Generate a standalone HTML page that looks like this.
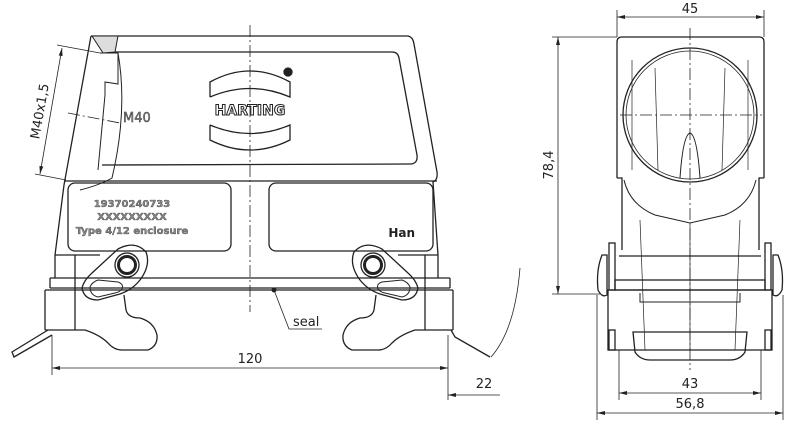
<!DOCTYPE html>
<html><head><style>body{margin:0;background:#fff}svg{display:block}text{font-family:"DejaVu Sans","Liberation Sans",sans-serif}</style></head><body>
<svg width="800" height="433" viewBox="0 0 800 433" xmlns="http://www.w3.org/2000/svg" fill="none" stroke="#222" stroke-width="1">
<defs><marker id="a" markerWidth="10" markerHeight="6" refX="10" refY="3" orient="auto-start-reverse"><path d="M0,0.5 L10,3 L0,5.5" fill="#222" stroke="none"/></marker></defs>
<!-- LEFT VIEW -->
<g stroke-width="1.3">
<path d="M91,36 L408,36 Q413,37 414,44 L437,172 Q438,180 433,182 L438,255 L438,278"/>
<path d="M91,36 L64,185 L55,255 L55,278"/>
<path d="M103,52 L392,52 Q398,52 399,58 L417,155 Q418,164 410,164 L102,165"/>
<line x1="64" y1="181" x2="437" y2="181"/>
<rect x="68" y="183" width="163" height="68" rx="7"/>
<rect x="269" y="183" width="164" height="68" rx="7"/>
<line x1="55" y1="255" x2="100" y2="255"/><line x1="398" y1="255" x2="438" y2="255"/>
<line x1="50" y1="278" x2="450" y2="278"/><line x1="50" y1="288" x2="450" y2="288"/>
<line x1="50" y1="278" x2="50" y2="288"/><line x1="450" y1="278" x2="450" y2="288"/>
<line x1="45" y1="290" x2="453" y2="290"/>
<line x1="45" y1="290" x2="45" y2="330"/><line x1="453" y1="290" x2="453" y2="330"/>
<path d="M45,330 L85,330 Q100,335 108,343 Q114,350 122,350 L148,350 Q158,346 157,335 Q154,322 140,318 Q128,318 126,310 L124,295"/>
<path d="M453,330 L415,330 Q400,335 392,343 Q386,350 378,350 L352,350 Q342,346 343,335 Q346,322 360,318 Q372,318 374,310 L376,295"/>
<line x1="75" y1="255" x2="75" y2="330"/><line x1="425" y1="255" x2="425" y2="330"/>
<path d="M48,330 L12,352 L14,357 L52,335"/>
<path d="M451,330 L455,337 L490,357"/>
<path d="M92,36 L118,36 L115,52 L103,53 Z" fill="#ddd" stroke-width="1"/>
<path d="M100,53 L118,53 L118,84 L105,82 L105,95 L98,170" stroke-width="1"/>
<path d="M118,53 Q128,110 112,178 Q100,185 80,190" stroke-width="1"/>
<!-- levers -->
<g id="lv"><circle cx="127" cy="265" r="12"/><circle cx="127" cy="265" r="8.5" stroke-width="3"/>
<path d="M118,249 Q135,240 146,252 Q151,265 140,280 Q132,290 120,294 L98,300 Q84,300 82,288 Q84,280 92,273 Z"/>
<path d="M90,287 Q92,282 98,280 L118,282 Q124,284 122,289 Q120,292 115,293 L98,297 Q90,295 90,287 Z" stroke-width="1"/>
</g>
<g transform="translate(500,0) scale(-1,1)"><use href="#lv"/></g>
</g>
<!-- logo -->
<g stroke-width="1.3">
<path d="M210,97 L210,82 Q250,60 290,82 L290,97 Q250,80 210,97"/>
<path d="M210,125 L210,140 Q250,160 290,140 L290,125 Q250,142 210,125"/>
<circle cx="288" cy="72" r="4" fill="#222"/>
</g>
<text x="250" y="115" font-size="14" font-weight="bold" text-anchor="middle" fill="#fff" stroke="#222" stroke-width="1">HARTING</text>
<text x="123" y="122" font-size="13" fill="#888" stroke="#222" stroke-width="0.4">M40</text>
<g fill="#888" stroke="#222" stroke-width="0.3" font-size="10" font-weight="bold" text-anchor="middle">
<text x="132" y="207">19370240733</text><text x="132" y="220">XXXXXXXXX</text><text x="132" y="234">Type 4/12 enclosure</text></g>
<text x="415" y="237" font-size="12" font-weight="bold" fill="#222" stroke="none" text-anchor="end">Han</text>
<!-- centerlines -->
<line x1="250" y1="25" x2="250" y2="312" stroke-width="0.8" stroke-dasharray="12,3,2,3"/>
<line x1="68" y1="113" x2="120" y2="123" stroke-width="0.8" stroke-dasharray="12,3,2,3"/>
<!-- dims left -->
<line x1="57" y1="45" x2="100" y2="53" stroke-width="0.8"/><line x1="35" y1="174" x2="66" y2="180" stroke-width="0.8"/>
<line x1="62" y1="48" x2="40" y2="174" stroke-width="0.8" marker-start="url(#a)" marker-end="url(#a)"/>
<text transform="translate(44,112) rotate(-80)" font-size="13" fill="#222" stroke="none" text-anchor="middle">M40x1,5</text>
<line x1="52" y1="335" x2="52" y2="375" stroke-width="0.8"/><line x1="448" y1="335" x2="448" y2="400" stroke-width="0.8"/>
<line x1="52" y1="368" x2="448" y2="368" stroke-width="0.8" marker-start="url(#a)" marker-end="url(#a)"/>
<text x="250" y="363" font-size="13" fill="#222" stroke="none" text-anchor="middle">120</text>
<line x1="448" y1="395" x2="500" y2="395" stroke-width="0.8" marker-start="url(#a)"/>
<text x="484" y="388" font-size="13" fill="#222" stroke="none" text-anchor="middle">22</text>
<path d="M520,268 Q515,330 491,357" stroke-width="0.8"/>
<circle cx="274" cy="290" r="2" fill="#222"/>
<path d="M274,290 L289,329 L322,329" stroke-width="0.8"/>
<text x="293" y="326" font-size="13" fill="#222" stroke="none">seal</text>
<!-- RIGHT VIEW -->
<g stroke-width="1.3">
<path d="M617,178 L617,42 Q617,37 622,37 L759,37 Q764,37 764,42 L764,178"/>
<circle cx="690" cy="115" r="67"/><circle cx="690" cy="115" r="64" stroke-width="0.8"/>
<path d="M617,178 L622,178 L622,250 M764,178 L759,178 L759,250"/>
<path d="M624,180 Q630,205 655,215 L690,223 L725,215 Q750,205 756,180" stroke-width="1"/>
<path d="M680,178 Q683,135 690,133 Q697,135 700,178" stroke-width="1"/>
<line x1="619" y1="256" x2="761" y2="256"/>
<rect x="615" y="280" width="150" height="10"/>
<path d="M608,290 L772,290 L772,350 L608,350 Z"/>
<path d="M640,293 L640,302 L740,302 L740,293" stroke-width="1"/>
<path d="M633,332 L635,352 Q640,360 650,360 L730,360 Q740,360 745,352 L747,332 Z"/>
<rect x="609" y="243" width="6" height="47"/><rect x="765" y="243" width="6" height="47"/>
<rect x="609" y="330" width="6" height="20"/><rect x="765" y="330" width="6" height="20"/>
<path d="M602,255 Q596,270 598,290 Q602,298 607,295 L607,255 Z"/>
<path d="M778,255 Q784,270 782,290 Q778,298 773,295 L773,255 Z"/>
</g>
<g stroke-width="0.7"><line x1="632" y1="60" x2="632" y2="170"/><line x1="748" y1="60" x2="748" y2="170"/>
<line x1="655" y1="68" x2="658" y2="170"/><line x1="725" y1="68" x2="722" y2="170"/>
<line x1="640" y1="220" x2="645" y2="350"/><line x1="740" y1="220" x2="735" y2="350"/>
<line x1="690" y1="225" x2="690" y2="350"/></g>
<line x1="690" y1="28" x2="690" y2="370" stroke-width="0.8" stroke-dasharray="12,3,2,3"/>
<line x1="620" y1="115" x2="762" y2="115" stroke-width="0.8" stroke-dasharray="12,3,2,3"/>
<!-- dims right -->
<line x1="617" y1="10" x2="617" y2="37" stroke-width="0.8"/><line x1="764" y1="10" x2="764" y2="37" stroke-width="0.8"/>
<line x1="617" y1="17" x2="764" y2="17" stroke-width="0.8" marker-start="url(#a)" marker-end="url(#a)"/>
<text x="690" y="13" font-size="13" fill="#222" stroke="none" text-anchor="middle">45</text>
<line x1="552" y1="37" x2="617" y2="37" stroke-width="0.8"/><line x1="552" y1="294" x2="600" y2="294" stroke-width="0.8"/>
<line x1="558" y1="37" x2="558" y2="294" stroke-width="0.8" marker-start="url(#a)" marker-end="url(#a)"/>
<text transform="translate(553,165) rotate(-90)" font-size="13" fill="#222" stroke="none" text-anchor="middle">78,4</text>
<line x1="619" y1="350" x2="619" y2="400" stroke-width="0.8"/><line x1="761" y1="350" x2="761" y2="400" stroke-width="0.8"/>
<line x1="619" y1="393" x2="761" y2="393" stroke-width="0.8" marker-start="url(#a)" marker-end="url(#a)"/>
<text x="690" y="388" font-size="13" fill="#222" stroke="none" text-anchor="middle">43</text>
<line x1="597" y1="295" x2="597" y2="420" stroke-width="0.8"/><line x1="783" y1="295" x2="783" y2="420" stroke-width="0.8"/>
<line x1="597" y1="413" x2="783" y2="413" stroke-width="0.8" marker-start="url(#a)" marker-end="url(#a)"/>
<text x="690" y="408" font-size="13" fill="#222" stroke="none" text-anchor="middle">56,8</text>
</svg>
</body></html>
